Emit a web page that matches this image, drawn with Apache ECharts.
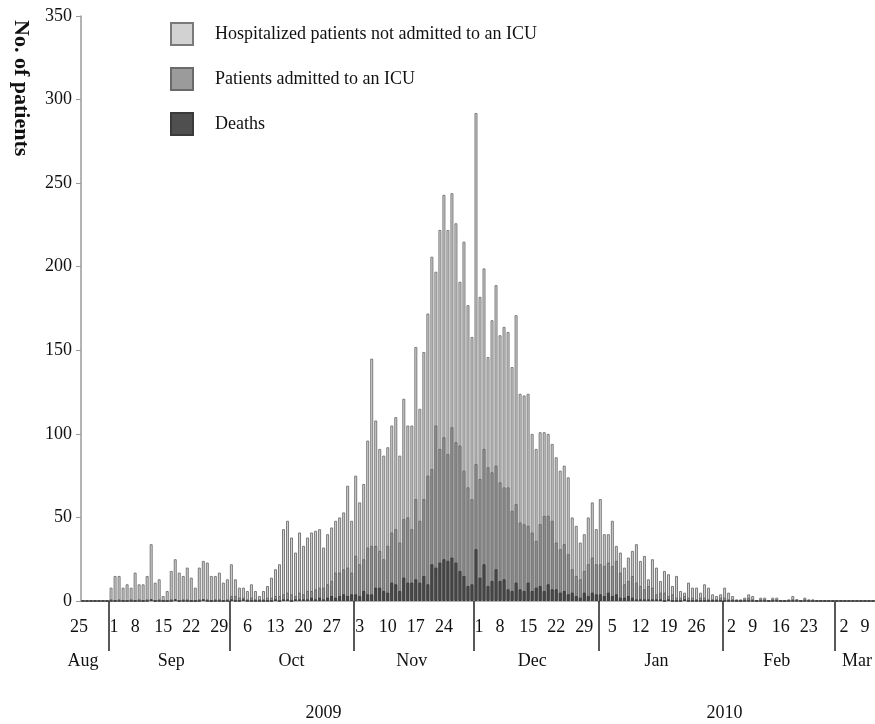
<!DOCTYPE html>
<html>
<head>
<meta charset="utf-8">
<script src="https://cdn.jsdelivr.net/npm/echarts@6/dist/echarts.min.js"></script>
<style>
  html, body { margin: 0; padding: 0; background: #fff; }
  #chart { width: 875px; height: 724px; }
</style>
</head>
<body>
<div id="chart"></div>
<script>
// daily counts, 25 Aug 2009 .. 11 Mar 2010 (one row per month)
const startDay = Date.UTC(2009, 7, 25)
const dayCount = 199

const hospitalized = [].concat(
  [0, 0, 0, 0, 0, 0, 0],
  [8, 15, 15, 8, 10, 8, 17, 10, 10, 15, 34, 11, 13, 3, 6, 18, 25, 17, 15, 20, 14, 8, 20, 24, 23, 15, 15, 17, 11, 13],
  [22, 13, 8, 8, 6, 10, 6, 3, 6, 9, 14, 19, 22, 43, 48, 38, 29, 41, 33, 38, 41, 42, 43, 32, 40, 44, 48, 50, 53, 69, 48],
  [75, 59, 70, 96, 145, 108, 91, 87, 92, 105, 110, 87, 121, 105, 105, 152, 115, 149, 172, 206, 197, 222, 243, 222, 244, 226, 191, 215, 177, 158],
  [292, 182, 199, 146, 168, 189, 159, 164, 161, 140, 171, 124, 123, 124, 100, 91, 101, 101, 100, 94, 86, 78, 81, 74, 50, 45, 35, 40, 50, 59, 43],
  [61, 40, 40, 48, 33, 29, 20, 26, 30, 34, 24, 27, 13, 25, 20, 12, 18, 16, 9, 15, 6, 5, 11, 8, 8, 5, 10, 8, 4, 3, 4],
  [8, 5, 3, 1, 1, 2, 4, 3, 0, 2, 2, 0, 2, 2, 0, 0, 1, 3, 1, 0, 2, 1, 1, 0, 0, 0, 0, 0],
  [0, 0, 0, 0, 0, 0, 0, 0, 0, 0, 0]
)

const icu = [].concat(
  [0, 0, 0, 0, 0, 0, 0],
  [1, 0, 1, 0, 0, 1, 0, 1, 0, 1, 1, 0, 1, 0, 0, 1, 1, 0, 1, 1, 0, 0, 1, 1, 1, 0, 1, 1, 0, 1],
  [3, 3, 2, 2, 1, 2, 1, 1, 1, 2, 2, 3, 3, 4, 5, 4, 3, 5, 4, 6, 6, 7, 8, 8, 10, 12, 17, 17, 19, 20, 17],
  [27, 22, 25, 32, 33, 33, 30, 25, 33, 41, 43, 35, 49, 50, 43, 61, 48, 61, 75, 79, 105, 91, 98, 88, 104, 95, 93, 78, 68, 61],
  [82, 73, 91, 80, 77, 81, 71, 68, 68, 54, 58, 47, 46, 45, 41, 36, 46, 51, 51, 48, 35, 31, 34, 28, 19, 15, 13, 18, 22, 26, 22],
  [22, 21, 23, 21, 24, 17, 10, 12, 15, 11, 9, 7, 9, 8, 4, 5, 5, 3, 4, 2, 2, 3, 2, 2, 1, 2, 2, 1, 1, 1, 2],
  [2, 1, 1, 0, 0, 1, 2, 1, 0, 1, 1, 0, 1, 1, 0, 0, 0, 1, 1, 0, 1, 0, 0, 0, 0, 0, 0, 0],
  [0, 0, 0, 0, 0, 0, 0, 0, 0, 0, 0]
)

const deaths = [].concat(
  [0, 0, 0, 0, 0, 0, 0],
  [0, 0, 0, 0, 0, 0, 0, 0, 0, 0, 1, 0, 0, 0, 0, 0, 1, 0, 0, 0, 0, 0, 0, 1, 0, 0, 0, 0, 0, 0],
  [1, 0, 0, 1, 0, 0, 0, 0, 0, 0, 0, 1, 0, 1, 1, 0, 1, 1, 1, 1, 2, 1, 2, 1, 2, 3, 2, 3, 4, 3, 4],
  [4, 3, 6, 4, 4, 8, 8, 6, 5, 11, 10, 6, 14, 11, 11, 13, 11, 15, 10, 22, 20, 23, 25, 24, 26, 23, 18, 15, 9, 10],
  [31, 14, 22, 9, 12, 19, 12, 13, 7, 6, 11, 7, 6, 11, 6, 8, 9, 6, 10, 7, 7, 5, 6, 4, 5, 3, 2, 5, 3, 5, 4],
  [4, 3, 5, 3, 4, 2, 2, 3, 2, 1, 1, 1, 1, 1, 1, 1, 0, 1, 0, 0, 0, 1, 0, 0, 0, 0, 0, 0, 0, 0, 0],
  [0, 0, 0, 0, 0, 0, 0, 0, 0, 0, 0, 0, 0, 0, 0, 0, 0, 0, 0, 0, 0, 0, 0, 0, 0, 0, 0, 0],
  [0, 0, 0, 0, 0, 0, 0, 0, 0, 0, 0]
)

const seriesNames = ['Hospitalized patients not admitted to an ICU', 'Patients admitted to an ICU', 'Deaths']
const yTicks = [0, 50, 100, 150, 200, 250, 300, 350]
// month name shown under the middle of each month
const monthLabels = {
  '2009-08-25': 'Aug', '2009-09-16': 'Sep', '2009-10-16': 'Oct', '2009-11-15': 'Nov',
  '2009-12-15': 'Dec', '2010-01-15': 'Jan', '2010-02-14': 'Feb', '2010-03-06': 'Mar'
}
const yearLabels = { '2009-10-24': '2009', '2010-02-01': '2010' }

const days = []
for (let i = 0; i < dayCount; i++) {
  days.push(new Date(startDay + i * 86400000).toISOString().slice(0, 10))
}

const font = 'Liberation Serif'
const txt = { fontFamily: font, fontSize: 18, color: '#111' }

// weekly day label; the first week of a month sits right of the month line
function dayLabel(v) {
  const d = Number(v.slice(8, 10))
  return d <= 2 ? '{r|' + d + '}' : '{l|' + d + '}'
}

function barSeries(name, data, fill, edge) {
  return {
    name: name,
    type: 'bar',
    data: data,
    barWidth: 3,
    barGap: '-100%',
    xAxisIndex: 0,
    itemStyle: { color: fill, borderColor: edge, borderWidth: 1 },
    emphasis: { disabled: true },
    animation: false
  }
}

const chart = echarts.init(document.getElementById('chart'))

chart.setOption({
  backgroundColor: '#fff',
  animation: false,
  // plot runs a few px past the right edge, like the cropped original
  grid: { left: 81, width: 798, top: 16, bottom: 123, outerBoundsMode: 'none' },
  legend: {
    orient: 'vertical',
    left: 170,
    top: 22,
    padding: 0,
    itemWidth: 22,
    itemHeight: 22,
    itemGap: 21,
    icon: 'rect',
    data: seriesNames,
    textStyle: { fontFamily: font, fontSize: 18, color: '#111', padding: [0, 0, 0, 17] }
  },
  graphic: [{
    type: 'text',
    x: 21,
    y: 20,
    rotation: -Math.PI / 2,
    style: {
      text: 'No. of patients',
      font: 'bold 22px "Liberation Serif"',
      fill: '#111',
      textAlign: 'left',
      textVerticalAlign: 'middle'
    }
  }],
  xAxis: [{
    // day numbers, weekly
    type: 'category',
    data: days,
    position: 'bottom',
    axisLine: { lineStyle: { color: '#9a9a9a', width: 1.5 } },
    axisTick: { alignWithLabel: true, interval: 6, length: 4, lineStyle: { color: '#9a9a9a' } },
    axisLabel: Object.assign({}, txt, {
      interval: 6,
      margin: 17,
      formatter: dayLabel,
      rich: {
        r: Object.assign({}, txt, { padding: [0, 0, 0, 6] }),
        l: Object.assign({}, txt, { padding: [0, 8, 0, 0] })
      }
    })
  }, {
    // month names, with the long month boundary lines as ticks
    type: 'category',
    data: days,
    position: 'bottom',
    axisLine: { show: false },
    axisTick: {
      show: true,
      interval: (i, v) => v.slice(8, 10) === '01',
      length: 50,
      lineStyle: { color: '#222', width: 1.5 }
    },
    axisLabel: Object.assign({}, txt, {
      interval: (i, v) => v in monthLabels,
      margin: 51,
      formatter: v => monthLabels[v] || ''
    })
  }, {
    // years
    type: 'category',
    data: days,
    position: 'bottom',
    axisLine: { show: false },
    axisTick: { show: false },
    axisLabel: Object.assign({}, txt, {
      interval: (i, v) => v in yearLabels,
      margin: 103,
      formatter: v => yearLabels[v] || ''
    })
  }],
  yAxis: {
    type: 'value',
    min: yTicks[0],
    max: yTicks[yTicks.length - 1],
    interval: 50,
    axisLine: { show: true, lineStyle: { color: '#9a9a9a', width: 1.5 } },
    axisTick: { show: true, length: 5, lineStyle: { color: '#9a9a9a' } },
    splitLine: { show: false },
    axisLabel: Object.assign({}, txt, { margin: 9 })
  },
  series: [
    barSeries(seriesNames[0], hospitalized, '#d2d2d2', '#7a7a7a'),
    barSeries(seriesNames[1], icu, '#9b9b9b', '#6a6a6a'),
    barSeries(seriesNames[2], deaths, '#4f4f4f', '#3a3a3a')
  ]
})
</script>
</body>
</html>
